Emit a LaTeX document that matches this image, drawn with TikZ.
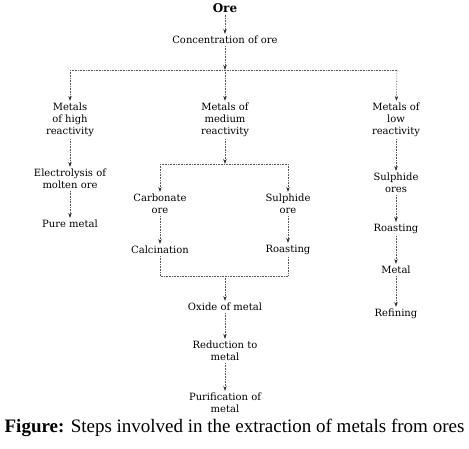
\documentclass[tikz,border=0pt]{standalone}
\usepackage{fontspec}
\setmainfont{Liberation Serif}
\newfontfamily\stepfont{DejaVu Serif}
\usetikzlibrary{arrows.meta}
\tikzset{
  step text/.style={align=center, font=\stepfont\fontsize{10}{12}\selectfont, inner sep=2pt},
  flow/.style={densely dotted, gray!70!black, line width=0.6pt,
    -{Stealth[length=5pt,width=3.5pt,black!80]}},
  bar/.style={densely dotted, gray!70!black, line width=0.6pt}
}
\begin{document}
\begin{tikzpicture}[x=1pt,y=-1pt]
      \useasboundingbox (0,0) rectangle (469,448);
      \draw
        (225,8) node[step text, font=\stepfont\bfseries\fontsize{12}{14}\selectfont] (ore){Ore}
        (225,40) node[step text] (conc){Concentration of ore}
        (70,120) node[step text] (high){Metals\\of high\\reactivity}
        (225,120) node[step text] (med){Metals of\\medium\\reactivity}
        (396,120) node[step text] (low){Metals of\\low\\reactivity}
        (70,179) node[step text] (elec){Electrolysis of\\molten ore}
        (70,224) node[step text] (pure){Pure metal}
        (160,204) node[step text] (carb){Carbonate\\ore}
        (288,204) node[step text] (sulph){Sulphide\\ore}
        (160,250) node[step text] (calc){Calcination}
        (288,250) node[step text] (roast){Roasting}
        (225,307) node[step text] (oxide){Oxide of metal}
        (225,351) node[step text] (redu){Reduction to\\metal}
        (225,403) node[step text] (puri){Purification of\\metal}
        (396,183) node[step text] (sulores){Sulphide\\ores}
        (396,229) node[step text] (roastb){Roasting}
        (396,270) node[step text] (metal){Metal}
        (396,314) node[step text] (refin){Refining};
      % junction points
      \coordinate (barL) at (70,70);
      \coordinate (barC) at (225,70);
      \coordinate (barR) at (397,70);
      \coordinate (midL) at (160,164);
      \coordinate (midC) at (225,164);
      \coordinate (midR) at (288,164);
      \coordinate (joinL) at (160,276);
      \coordinate (joinC) at (225,276);
      \coordinate (joinR) at (288,276);
      \begin{scope}
        \draw[flow] (ore) to (conc);
        \draw[flow] (conc) to (barC);
        \draw[bar] (barL) to (barR);
        \draw[flow] (barL) to (high);
        \draw[flow] (barC) to (med);
        \draw[flow] (barR) to (low);
        \draw[flow] (high) to (elec);
        \draw[flow] (elec) to (pure);
        \draw[flow] (med) to (midC);
        \draw[bar] (midL) to (midR);
        \draw[flow] (midL) to (carb);
        \draw[flow] (midR) to (sulph);
        \draw[flow] (carb) to (calc);
        \draw[flow] (sulph) to (roast);
        \draw[bar] (calc) |- (joinC) -| (roast);
        \draw[flow] (joinC) to (oxide);
        \draw[flow] (oxide) to (redu);
        \draw[flow] (redu) to (puri);
        \draw[flow] (low) to (sulores);
        \draw[flow] (sulores) to (roastb);
        \draw[flow] (roastb) to (metal);
        \draw[flow] (metal) to (refin);
      \end{scope}
      \node[font=\fontsize{19}{22}\selectfont, inner sep=0pt] (caption) at (234.5,428)
        {\textbf{Figure:} Steps involved in the extraction of metals from ores};
    \end{tikzpicture}
\end{document}
